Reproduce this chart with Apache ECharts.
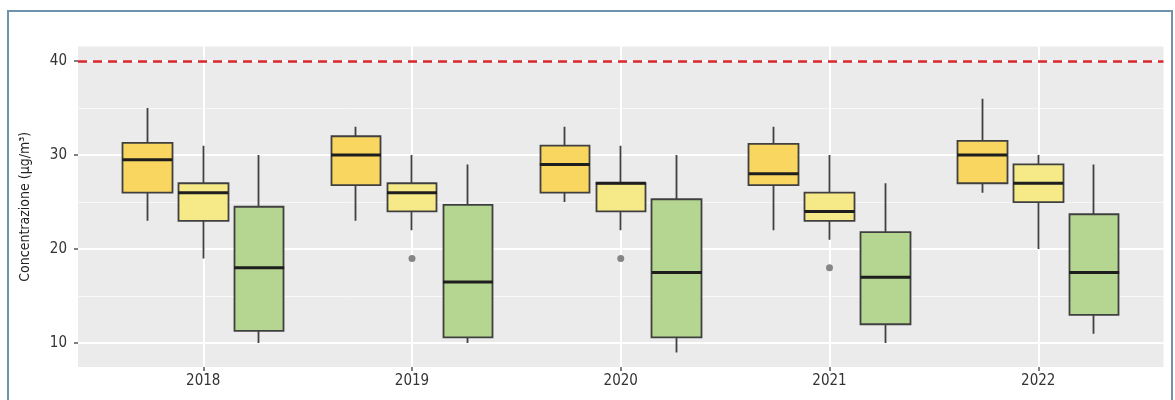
<!DOCTYPE html>
<html>
<head>
<meta charset="utf-8">
<script src="https://cdn.jsdelivr.net/npm/echarts@6/dist/echarts.min.js"></script>
<style>
html,body{margin:0;padding:0;background:#ffffff;}
#chart{width:1175px;height:400px;}
</style>
</head>
<body>
<div id="chart"></div>
<script>
// ---- data ----
const years = ['2018', '2019', '2020', '2021', '2022'];
const limitValue = 40;
const yMajorTicks = [10, 20, 30, 40];
const yMinorTicks = [15, 25, 35];

// group 1 (golden yellow)
const g1Min = [23, 23, 25, 22, 26];
const g1Q1  = [26.0, 26.8, 26.0, 26.8, 27.0];
const g1Med = [29.5, 30.0, 29.0, 28.0, 30.0];
const g1Q3  = [31.3, 32.0, 31.0, 31.2, 31.5];
const g1Max = [35, 33, 33, 33, 36];

// group 2 (light yellow)
const g2Min = [19, 22, 22, 21, 20];
const g2Q1  = [23.0, 24.0, 24.0, 23.0, 25.0];
const g2Med = [26.0, 26.0, 27.0, 24.0, 27.0];
const g2Q3  = [27.0, 27.0, 27.0, 26.0, 29.0];
const g2Max = [31, 30, 31, 30, 30];
const g2OutlierYears  = ['2019', '2020', '2021'];
const g2OutlierValues = [19, 19, 18];

// group 3 (green)
const g3Min = [10, 10, 9, 10, 11];
const g3Q1  = [11.3, 10.6, 10.6, 12.0, 13.0];
const g3Med = [18.0, 16.5, 17.5, 17.0, 17.5];
const g3Q3  = [24.5, 24.7, 25.3, 21.8, 23.7];
const g3Max = [30, 29, 30, 27, 29];

// ---- layout / style ----
const FONT = '"Liberation Sans Narrow", "DejaVu Sans Condensed", "Roboto", sans-serif';
const DODGE = 0.268;          // dodge offset in category units
const BOX_W = 50;             // box width in px
const groups = [
  {name: 'Gruppo 1', min: g1Min, q1: g1Q1, med: g1Med, q3: g1Q3, max: g1Max, fill: '#f9d660', off: -DODGE},
  {name: 'Gruppo 2', min: g2Min, q1: g2Q1, med: g2Med, q3: g2Q3, max: g2Max, fill: '#f6ea88', off: 0},
  {name: 'Gruppo 3', min: g3Min, q1: g3Q1, med: g3Med, q3: g3Q3, max: g3Max, fill: '#b5d690', off: DODGE}
];

const series = [];
groups.forEach(function (g) {
  series.push({
    type: 'candlestick',
    name: g.name,
    barWidth: BOX_W,
    silent: true,
    itemStyle: {color: g.fill, color0: g.fill, borderColor: '#404040', borderColor0: '#404040', borderWidth: 1.8},
    data: years.map(function (y, i) { return [i + 1 + g.off, g.q1[i], g.q3[i], g.min[i], g.max[i]]; }),
    z: 3
  });
});
// medians
const medianData = [];
groups.forEach(function (g) {
  years.forEach(function (y, i) { medianData.push([i + 1 + g.off, g.med[i]]); });
});
series.push({
  type: 'scatter',
  name: 'Mediana',
  symbol: 'rect',
  symbolSize: [BOX_W, 3],
  silent: true,
  itemStyle: {color: '#1e1e1e', opacity: 1},
  data: medianData,
  z: 5
});
// outliers
series.push({
  type: 'scatter',
  name: 'Outlier',
  symbol: 'circle',
  symbolSize: 7,
  silent: true,
  itemStyle: {color: '#858585', opacity: 1},
  data: g2OutlierYears.map(function (y, k) { return [years.indexOf(y) + 1 + groups[1].off, g2OutlierValues[k]]; }),
  z: 5,
  markLine: {
    silent: true,
    symbol: ['none', 'none'],
    label: {show: false},
    lineStyle: {color: '#d8272c', width: 2.5, type: [9, 6], opacity: 1},
    data: [{yAxis: limitValue}]
  }
});

const chart = echarts.init(document.getElementById('chart'), null, {renderer: 'canvas'});
chart.setOption({
  animation: false,
  backgroundColor: '#ffffff',
  textStyle: {fontFamily: FONT},
  grid: {left: 78, right: 11.5, top: 46.5, bottom: 33, show: true, backgroundColor: '#ebebeb', borderWidth: 0},
  xAxis: [{
    type: 'value',
    min: 0.4, max: 5.6,
    axisLine: {show: false},
    axisTick: {show: true, length: 4, customValues: [1, 2, 3, 4, 5], lineStyle: {color: '#555', width: 1.5}},
    axisLabel: {
      customValues: [1, 2, 3, 4, 5],
      margin: 7,
      fontFamily: FONT, fontSize: 15, color: '#333',
      formatter: function (v) { return years[Math.round(v) - 1]; }
    },
    splitLine: {show: true, lineStyle: {color: '#ffffff', width: 2}}
  }],
  yAxis: [{
    type: 'value',
    min: 7.45, max: 41.55,
    name: 'Concentrazione (µg/m³)',
    nameLocation: 'middle',
    nameGap: 46,
    nameTextStyle: {fontFamily: FONT, fontSize: 14, color: '#222'},
    axisLine: {show: false},
    axisTick: {show: true, length: 4, customValues: yMajorTicks, lineStyle: {color: '#555', width: 1.5}},
    axisLabel: {customValues: yMajorTicks, margin: 11, fontFamily: FONT, fontSize: 15, color: '#333'},
    splitLine: {show: true, lineStyle: {color: '#ffffff', width: 2}}
  }, {
    type: 'value',
    min: 7.45, max: 41.55,
    position: 'left',
    axisLine: {show: false},
    axisTick: {show: false, customValues: yMinorTicks},
    axisLabel: {show: false, customValues: yMinorTicks},
    splitLine: {show: true, lineStyle: {color: '#f8f8f8', width: 1}}
  }],
  graphic: [{
    type: 'rect',
    silent: true,
    z: 100,
    shape: {x: 8, y: 11, width: 1164, height: 400},
    style: {fill: 'none', stroke: '#7093ad', lineWidth: 2}
  }],
  series: series
});
</script>
</body>
</html>
